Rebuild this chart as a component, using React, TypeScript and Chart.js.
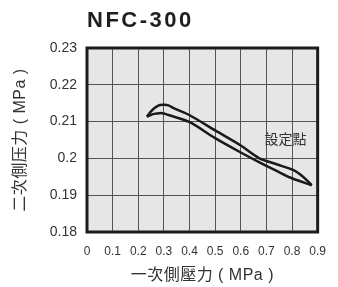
import React, { useEffect, useRef } from "react";
import { Chart, registerables } from "chart.js";

Chart.register(...registerables);

const TITLE = "NFC-300";
const X_TITLE = "一次側壓力 ( MPa )";
const Y_TITLE = "二次側压力 ( MPa )";
const NOTE = "設定點";
const NOTE_POS = { x: 0.775, y: 0.205 };

const X_MIN = 0;
const X_MAX = 0.9;
const X_STEP = 0.1;
const Y_MIN = 0.18;
const Y_MAX = 0.23;
const Y_STEP = 0.01;

// upper branch of the hysteresis loop
const upperX = [0.234, 0.245, 0.257, 0.27, 0.285, 0.302, 0.318, 0.34, 0.399, 0.5, 0.6, 0.671, 0.74, 0.806, 0.845, 0.877];
const upperY = [0.2113, 0.2124, 0.2133, 0.214, 0.2145, 0.2146, 0.2144, 0.2136, 0.2118, 0.2076, 0.2035, 0.2001, 0.1984, 0.1968, 0.1949, 0.1927];
// lower branch of the hysteresis loop
const lowerX = [0.234, 0.248, 0.262, 0.283, 0.3, 0.318, 0.399, 0.5, 0.6, 0.671, 0.74, 0.8, 0.877];
const lowerY = [0.2113, 0.2118, 0.2121, 0.2123, 0.2122, 0.2118, 0.2099, 0.2055, 0.2016, 0.1990, 0.1966, 0.1946, 0.1927];

const LATIN = "'Liberation Sans', Arial, sans-serif";
const CJK = "'Liberation Sans', Arial, 'Noto Sans CJK TC', sans-serif";
const TEXT = "#333333";

const fmt = (v: number) => String(Number(Number(v).toFixed(2)));

export default function App() {
  const ref = useRef<HTMLCanvasElement | null>(null);

  useEffect(() => {
    document.body.style.margin = "0";
    const canvas = ref.current;
    if (!canvas) return;

    const decor = {
      id: "decor",
      beforeDraw(chart: any) {
        const { ctx, chartArea: a } = chart;
        ctx.save();
        ctx.fillStyle = "#e6e6e6";
        ctx.fillRect(a.left, a.top, a.right - a.left, a.bottom - a.top);
        ctx.restore();
      },
      afterDraw(chart: any) {
        const { ctx, chartArea: a, scales } = chart;
        ctx.save();
        ctx.strokeStyle = "#1c1c1c";
        ctx.lineWidth = 3;
        ctx.strokeRect(a.left, a.top, a.right - a.left, a.bottom - a.top);

        // title
        ctx.fillStyle = "#1e1e1e";
        ctx.font = `bold 22px ${LATIN}`;
        (ctx as any).letterSpacing = "2.5px";
        ctx.textAlign = "left";
        ctx.textBaseline = "alphabetic";
        ctx.fillText(TITLE, a.left, 27);

        // axis titles
        (ctx as any).letterSpacing = "0.5px";
        ctx.fillStyle = TEXT;
        ctx.font = `16px ${CJK}`;
        ctx.textAlign = "center";
        ctx.textBaseline = "middle";
        ctx.fillText(X_TITLE, (a.left + a.right) / 2, 276);
        ctx.save();
        ctx.translate(21, (a.top + a.bottom) / 2);
        ctx.rotate(-Math.PI / 2);
        ctx.fillText(Y_TITLE, 0, 0);
        ctx.restore();

        // note
        (ctx as any).letterSpacing = "0px";
        ctx.font = `14px ${CJK}`;
        ctx.fillText(NOTE, scales.x.getPixelForValue(NOTE_POS.x), scales.y.getPixelForValue(NOTE_POS.y));
        ctx.restore();
      },
    };

    const chart = new Chart(canvas, {
      type: "scatter",
      data: {
        datasets: [
          {
            label: "upper",
            data: upperX.map((x, i) => ({ x, y: upperY[i] })),
            showLine: true,
            borderColor: "#1a1a1a",
            borderWidth: 2.5,
            pointRadius: 0,
            tension: 0.3,
          },
          {
            label: "lower",
            data: lowerX.map((x, i) => ({ x, y: lowerY[i] })),
            showLine: true,
            borderColor: "#1a1a1a",
            borderWidth: 2.5,
            pointRadius: 0,
            tension: 0.3,
          },
        ],
      },
      options: {
        responsive: false,
        animation: false,
        devicePixelRatio: 1,
        layout: { padding: { top: 48, right: 18, left: 0, bottom: 0 } },
        plugins: { legend: { display: false }, tooltip: { enabled: false }, title: { display: false } },
        scales: {
          x: {
            type: "linear",
            min: X_MIN,
            max: X_MAX,
            afterFit: (s: any) => {
              s.height = 55;
            },
            ticks: {
              stepSize: X_STEP,
              callback: (v: any) => fmt(v),
              color: TEXT,
              font: { family: "'Liberation Sans Narrow', " + LATIN, size: 12 },
              padding: 12,
              maxRotation: 0,
              autoSkip: false,
            },
            grid: { color: "#555555", lineWidth: 1, drawTicks: false },
            border: { display: false },
          },
          y: {
            type: "linear",
            min: Y_MIN,
            max: Y_MAX,
            afterFit: (s: any) => {
              s.width = 87;
            },
            ticks: {
              stepSize: Y_STEP,
              callback: (v: any) => fmt(v),
              color: TEXT,
              font: { family: LATIN, size: 14 },
              padding: 10,
              autoSkip: false,
            },
            grid: { color: "#555555", lineWidth: 1, drawTicks: false },
            border: { display: false },
          },
        },
      },
      plugins: [decor],
    });
    return () => chart.destroy();
  }, []);

  return (
    <div style={{ width: 338, height: 287 }}>
      <canvas ref={ref} width={338} height={287} />
    </div>
  );
}
